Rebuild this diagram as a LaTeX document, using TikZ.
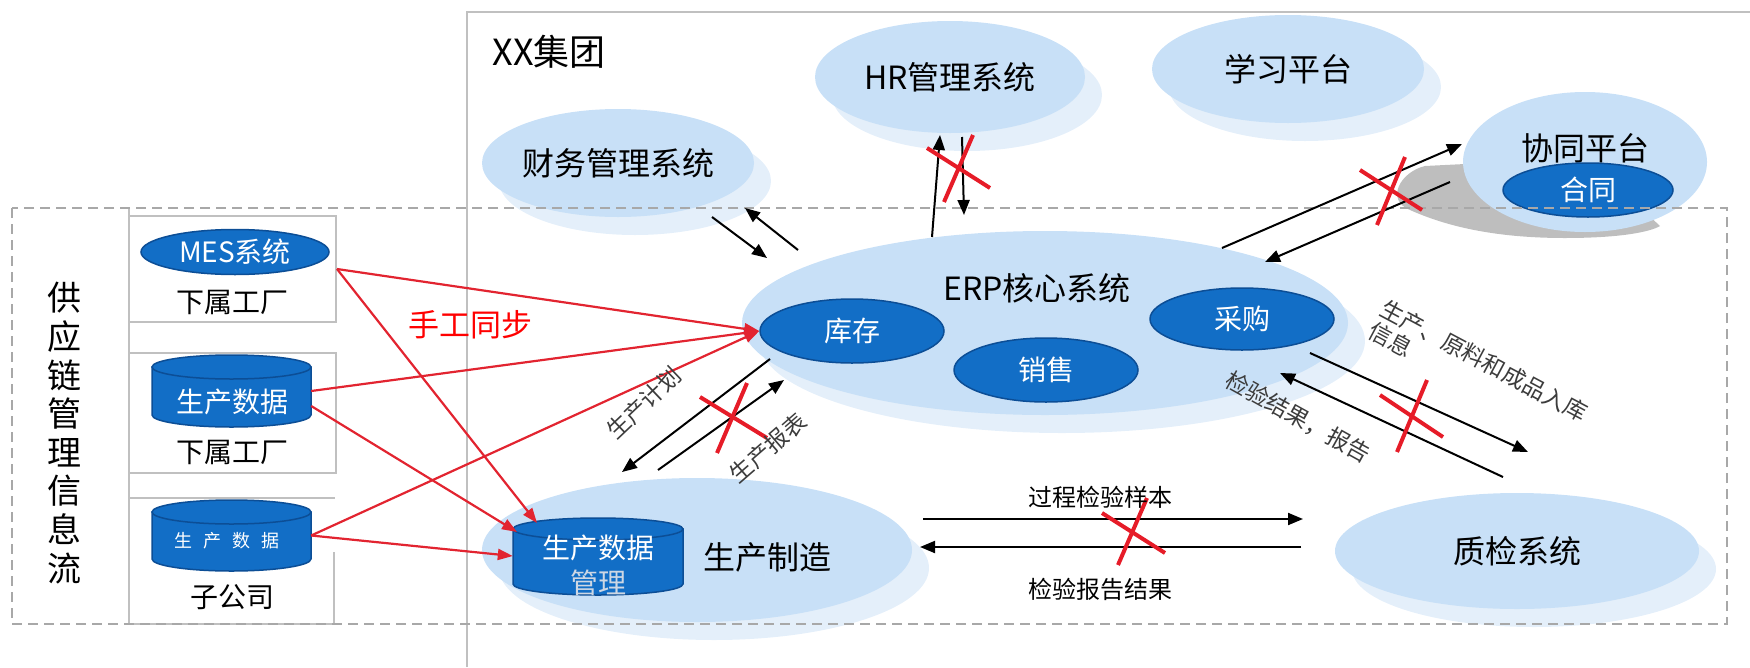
\documentclass[tikz,border=0pt]{standalone}
\usepackage{fontspec}
\setmainfont{Noto Sans CJK SC}
\usetikzlibrary{arrows.meta,shapes.geometric,shadows}

\definecolor{sysblue}{RGB}{200,224,247}
\definecolor{shadeblue}{RGB}{228,239,250}
\definecolor{modblue}{RGB}{18,110,198}
\definecolor{modline}{RGB}{12,78,150}
\definecolor{framegray}{RGB}{192,192,192}
\definecolor{dashgray}{RGB}{168,168,168}
\definecolor{syncred}{RGB}{226,36,48}
\definecolor{cutred}{RGB}{230,28,40}
\definecolor{shadowgray}{RGB}{190,190,190}
\definecolor{notegray}{RGB}{60,60,60}
\definecolor{paletext}{RGB}{205,215,228}

\tikzset{
  big/.style={font=\fontsize{32}{36}\selectfont},
  mid/.style={font=\fontsize{28}{32}\selectfont},
  sys/.style={ellipse, fill=sysblue, inner sep=0pt, big,
    drop shadow={shadow xshift=17pt, shadow yshift=-18pt, fill=shadeblue, opacity=1}},
  mod/.style={ellipse, fill=modblue, draw=modline, line width=1.5pt,
    inner sep=0pt, text=white, mid},
  dbbody/.style={fill=modblue, draw=modline, line width=1.5pt},
  hold/.style={inner sep=0pt},
  box/.style={draw=framegray, line width=2pt, inner sep=0pt},
  flow/.style={line width=2pt, -{Triangle[length=15pt,width=12pt]}},
  sync/.style={syncred, line width=2.2pt, -{Triangle[length=15pt,width=11pt]}},
  cut/.style={cutred, line width=4pt},
  note/.style={text=notegray, font=\fontsize{23}{25}\selectfont, inner sep=0pt}
}

\begin{document}
\begin{tikzpicture}[x=1pt, y=-1pt]
\useasboundingbox (0,0) rectangle (1750,667);

  % Group frame
  \draw[framegray, line width=2pt] (467,667) -- (467,12) -- (1750,12);
  \node[font=\fontsize{36}{40}\selectfont] (group) at (549,52) {XX集团};

  % Shadow behind the collaboration platform
  \fill[shadowgray] (1465,164) -- (1425,166) .. controls (1400,172) and (1385,200) .. (1410,210)
    .. controls (1450,228) and (1500,238) .. (1565,238)
    .. controls (1620,238) and (1650,232) .. (1660,226) -- (1600,170) -- cycle;

  % Systems of the group
  \node[sys, minimum width=272pt, minimum height=108pt] (fin) at (618,163) {财务管理系统};
  \node[sys, minimum width=270pt, minimum height=112pt] (hr) at (950,77) {HR管理系统};
  \node[sys, minimum width=272pt, minimum height=108pt] (learn) at (1288,69) {学习平台};
  \node[ellipse, fill=sysblue, minimum width=244pt, minimum height=140pt] (coop) at (1585,162) {};
  \node[big] (coop-t) at (1585,148) {协同平台};
  \node[mod, minimum width=170pt, minimum height=54pt] (hetong) at (1588,190) {合同};

  \node[sys, minimum width=606pt, minimum height=184pt] (erp) at (1045,323) {};
  \node[big] (erp-t) at (1037,288) {ERP核心系统};
  \node[mod, minimum width=184pt, minimum height=64pt] (kucun) at (852,331) {库存};
  \node[mod, minimum width=184pt, minimum height=62pt] (caigou) at (1242,319) {采购};
  \node[mod, minimum width=184pt, minimum height=64pt] (xiaoshou) at (1046,370) {销售};

  \node[sys, minimum width=430pt, minimum height=144pt] (prod) at (697,550) {};
  \node[big] (prod-t) at (767,557) {生产制造};

  % Production data store
  \node[hold, minimum width=170pt, minimum height=77pt] (pdm) at (598,556) {};
  \draw[dbbody] (513,529) -- (513,584) .. controls (513,590.1) and (551.1,595) .. (598,595)
    .. controls (644.9,595) and (683,590.1) .. (683,584) -- (683,529) -- cycle;
  \draw[dbbody] (598,529) ellipse [x radius=85, y radius=11];
  \node[mid, text=white] (pdm-t) at (598,548) {生产数据};
  \node[mid, text=paletext] (pdm-t2) at (598,583) {管理};

  \node[sys, minimum width=364pt, minimum height=116pt] (qc) at (1517,551) {质检系统};

  % Supply chain side
  \draw[framegray, line width=2pt] (129,208) -- (129,624);
  \node[box, minimum width=207pt, minimum height=106pt] (plant1) at (232.5,269) {};
  \node[box, minimum width=207pt, minimum height=120pt] (plant2) at (232.5,413) {};
  \draw[framegray, line width=2pt] (129,498) -- (335,498) (334,552) -- (334,624) -- (129,624);

  \node[mod, minimum width=188pt, minimum height=45pt] (mes) at (235,252) {MES系统};
  \node[mid] (plant1-t) at (232,302) {下属工厂};

  \node[hold, minimum width=159pt, minimum height=72pt] (data2) at (231.5,391) {};
  \draw[dbbody] (152,367) -- (152,415) .. controls (152,421.6) and (187.6,427) .. (231.5,427)
    .. controls (275.4,427) and (311,421.6) .. (311,415) -- (311,367) -- cycle;
  \draw[dbbody] (231.5,367) ellipse [x radius=79.5, y radius=12];
  \node[mid, text=white] (data2-t) at (232,402) {生产数据};
  \node[mid] (plant2-t) at (232,452) {下属工厂};

  \node[hold, minimum width=159pt, minimum height=71pt] (data3) at (231.5,535.5) {};
  \draw[dbbody] (152,512) -- (152,559) .. controls (152,565.6) and (187.6,571) .. (231.5,571)
    .. controls (275.4,571) and (311,565.6) .. (311,559) -- (311,512) -- cycle;
  \draw[dbbody] (231.5,512) ellipse [x radius=79.5, y radius=12];
  \node[text=white, font=\fontsize{18}{20}\selectfont] (data3-t) at (227,541)
    {生\hspace{11pt}产\hspace{11pt}数\hspace{11pt}据};
  \node[mid] (sub-t) at (232,597) {子公司};

  \node[align=center, font=\fontsize{34}{38.6}\selectfont] (chain) at (64,433)
    {供\\应\\链\\管\\理\\信\\息\\流};

  % Dashed scope of the supply chain
  \draw[dashgray, line width=2pt, dash pattern=on 10pt off 6pt] (12,208) rectangle (1727,624);

  % End points of the flows
  \coordinate (fin-o) at (712,217);   \coordinate (erp-fi) at (767,258);
  \coordinate (erp-fo) at (798,250);  \coordinate (fin-i) at (745,208);
  \coordinate (erp-ho) at (932,237);  \coordinate (hr-i) at (940,135);
  \coordinate (hr-o) at (962,137);    \coordinate (erp-hi) at (964,215);
  \coordinate (erp-co) at (1222,248); \coordinate (coop-i) at (1462,144);
  \coordinate (coop-o) at (1450,182); \coordinate (erp-ci) at (1265,262);
  \coordinate (cg-o) at (1310,353);   \coordinate (qc-i) at (1528,452);
  \coordinate (qc-o) at (1503,477);   \coordinate (cg-i) at (1280,373);
  \coordinate (prod-o) at (923,519);  \coordinate (qc-hi) at (1303,519);
  \coordinate (qc-ho) at (1301,547);  \coordinate (prod-i) at (920,547);
  \coordinate (kc-o) at (770,359);    \coordinate (prod-ki) at (622,472);
  \coordinate (prod-ko) at (658,470); \coordinate (kc-i) at (784,380);
  \coordinate (pdm-a) at (537,523);   \coordinate (pdm-b) at (517,532);

  % Flows
  \draw[flow] (fin-o) -- (erp-fi);
  \draw[flow] (erp-fo) -- (fin-i);
  \draw[flow] (erp-ho) -- (hr-i);
  \draw[flow] (hr-o) -- (erp-hi);
  \draw[flow] (erp-co) -- (coop-i);
  \draw[flow] (coop-o) -- (erp-ci);
  \draw[flow] (cg-o) -- (qc-i);
  \draw[flow] (qc-o) -- (cg-i);
  \draw[flow] (prod-o) -- (qc-hi);
  \draw[flow] (qc-ho) -- (prod-i);
  \draw[flow] (kc-o) -- (prod-ki);
  \draw[flow] (prod-ko) -- (kc-i);

  % Manual sync
  \draw[sync] (plant1.east) -- (kucun.west);
  \draw[sync] (plant1.east) -- (pdm-a);
  \draw[sync] (data2.east) -- (kucun.west);
  \draw[sync] ([yshift=-15pt]data2.east) -- (pdm-b);
  \draw[sync] (data3.east) -- (kucun.west);
  \draw[sync] (data3.east) -- (pdm.west);
  \node[text=red, font=\fontsize{31}{34}\selectfont] (manual) at (470,325) {手工同步};

  % Broken links
  \draw[cut] (927,148) -- (990,188) (944,202) -- (973,135);
  \draw[cut] (1360,170) -- (1422,210) (1405,157) -- (1377,225);
  \draw[cut] (700,397) -- (767,438) (747,383) -- (717,453);
  \draw[cut] (1380,395) -- (1443,437) (1427,380) -- (1397,452);
  \draw[cut] (1102,513) -- (1165,553) (1147,498) -- (1118,565);

  % Flow labels
  \node[font=\fontsize{24}{28}\selectfont] (insp-t) at (1100,497) {过程检验样本};
  \node[font=\fontsize{24}{28}\selectfont] (rep-t) at (1100,589) {检验报告结果};
  \node[note, rotate=43.5] (plan-t) at (644,403) {生产计划};
  \node[note, rotate=41] (rpt-t) at (768,448) {生产报表};
  \node[note, rotate=-29] (res-t) at (1298,417) {检验结果，报告};
  \node[note, rotate=-28, align=left] (stock-t) at (1478,372) {生产、原料和成品入库\\信息};

\end{tikzpicture}
\end{document}
